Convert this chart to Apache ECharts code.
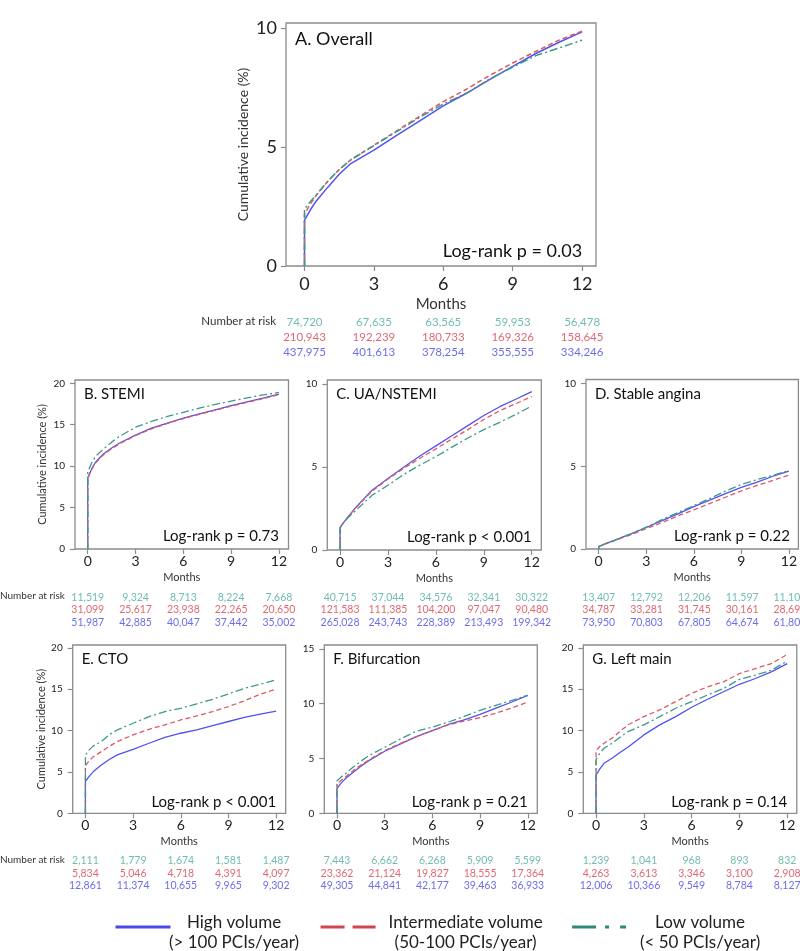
<!DOCTYPE html>
<html>
<head>
<meta charset="utf-8">
<script src="https://cdn.jsdelivr.net/npm/echarts@6/dist/echarts.min.js"></script>
<style>
html,body{margin:0;padding:0;background:#fff;}
#chart{width:800px;height:951px;}
</style>
</head>
<body>
<div id="chart"></div>
<script>
// ---------- DATA ----------
const months = [0, 0.25, 0.5, 1, 1.5, 2, 3, 4, 5, 6, 7, 8, 9, 10, 11, 12];
const tickMonths = [0, 3, 6, 9, 12];
const groupNames = ['High volume', 'Intermediate volume', 'Low volume'];
const groupSubs = ['(> 100 PCIs/year)', '(50-100 PCIs/year)', '(< 50 PCIs/year)'];
const riskRows = ['Low', 'Intermediate', 'High'];

const panelTitles = ['A. Overall', 'B. STEMI', 'C. UA/NSTEMI', 'D. Stable angina', 'E. CTO', 'F. Bifurcation', 'G. Left main'];
const logRankTexts = ['Log-rank p = 0.03', 'Log-rank p = 0.73', 'Log-rank p < 0.001', 'Log-rank p = 0.22', 'Log-rank p < 0.001', 'Log-rank p = 0.21', 'Log-rank p = 0.14'];
const yTickValues = [[0, 5, 10], [0, 5, 10, 15, 20], [0, 5, 10], [0, 5, 10], [0, 5, 10, 15, 20], [0, 5, 10, 15], [0, 5, 10, 15, 20]];

// cumulative incidence (%) at months[]
const overallHigh  = [1.93, 2.35, 2.72, 3.3, 3.85, 4.3, 4.86, 5.49, 6.1, 6.72, 7.25, 7.82, 8.38, 8.92, 9.39, 9.83];
const overallInter = [2.18, 2.6, 2.95, 3.55, 4.05, 4.46, 5.07, 5.68, 6.3, 6.9, 7.42, 8.0, 8.52, 9.01, 9.48, 9.86];
const overallLow   = [2.4, 2.7, 2.98, 3.55, 4.05, 4.45, 5.05, 5.65, 6.25, 6.8, 7.25, 7.85, 8.35, 8.83, 9.15, 9.48];

const stemiHigh  = [8.6, 9.7, 10.5, 11.5, 12.2, 12.8, 13.75, 14.6, 15.2, 15.8, 16.3, 16.8, 17.3, 17.75, 18.2, 18.7];
const stemiInter = [8.5, 9.6, 10.4, 11.4, 12.1, 12.7, 13.7, 14.5, 15.15, 15.75, 16.25, 16.75, 17.25, 17.7, 18.15, 18.65];
const stemiLow   = [9.3, 10.4, 11.2, 12.1, 12.9, 13.6, 14.7, 15.4, 16.0, 16.5, 17.0, 17.45, 17.85, 18.25, 18.6, 18.9];

const nstemiHigh  = [1.35, 1.7, 2.0, 2.58, 3.1, 3.6, 4.31, 5.0, 5.67, 6.28, 6.89, 7.5, 8.11, 8.64, 9.09, 9.55];
const nstemiInter = [1.35, 1.7, 2.0, 2.55, 3.05, 3.55, 4.28, 4.93, 5.53, 6.1, 6.69, 7.26, 7.87, 8.4, 8.82, 9.25];
const nstemiLow   = [1.35, 1.68, 1.95, 2.4, 2.85, 3.3, 3.9, 4.57, 5.12, 5.63, 6.2, 6.75, 7.26, 7.7, 8.17, 8.68];

const stableHigh  = [0.15, 0.25, 0.35, 0.52, 0.72, 0.9, 1.3, 1.72, 2.12, 2.56, 2.95, 3.35, 3.73, 4.05, 4.4, 4.71];
const stableInter = [0.15, 0.25, 0.33, 0.5, 0.68, 0.85, 1.23, 1.6, 2.0, 2.36, 2.75, 3.13, 3.52, 3.85, 4.15, 4.47];
const stableLow   = [0.15, 0.25, 0.35, 0.52, 0.72, 0.9, 1.32, 1.78, 2.2, 2.62, 3.05, 3.5, 3.9, 4.2, 4.45, 4.75];

const ctoHigh  = [3.85, 4.5, 5.04, 5.85, 6.5, 7.06, 7.74, 8.47, 9.19, 9.68, 10.08, 10.6, 11.1, 11.6, 12.0, 12.35];
const ctoInter = [5.75, 6.4, 6.85, 7.46, 8.1, 8.67, 9.48, 10.16, 10.69, 11.29, 11.77, 12.3, 12.9, 13.6, 14.4, 15.0];
const ctoLow   = [7.05, 7.7, 8.15, 8.67, 9.5, 10.08, 10.89, 11.69, 12.3, 12.7, 13.23, 13.79, 14.44, 15.1, 15.6, 16.15];

const bifHigh  = [2.26, 2.75, 3.12, 3.73, 4.3, 4.8, 5.66, 6.33, 7.0, 7.55, 8.1, 8.53, 9.02, 9.6, 10.15, 10.76];
const bifInter = [2.72, 3.0, 3.27, 3.88, 4.4, 4.86, 5.72, 6.38, 7.0, 7.55, 8.07, 8.41, 8.72, 9.14, 9.6, 10.15];
const bifLow   = [2.97, 3.3, 3.58, 4.19, 4.75, 5.26, 6.02, 6.79, 7.49, 7.86, 8.32, 8.84, 9.39, 9.85, 10.3, 10.76];

const lmHigh  = [4.64, 5.4, 6.05, 6.65, 7.35, 7.98, 9.48, 10.69, 11.69, 12.82, 13.79, 14.7, 15.6, 16.3, 17.1, 18.1];
const lmInter = [7.58, 8.1, 8.47, 9.07, 9.9, 10.69, 11.69, 12.5, 13.5, 14.5, 15.3, 15.9, 16.9, 17.5, 18.1, 19.2];
const lmLow   = [6.53, 7.3, 7.86, 8.47, 9.2, 9.88, 10.69, 11.69, 12.7, 13.5, 14.3, 15.1, 16.2, 16.7, 17.3, 18.4];

// number at risk at tickMonths
const riskOverallLow = [74720, 67635, 63565, 59953, 56478];
const riskOverallInter = [210943, 192239, 180733, 169326, 158645];
const riskOverallHigh = [437975, 401613, 378254, 355555, 334246];
const riskStemiLow = [11519, 9324, 8713, 8224, 7668];
const riskStemiInter = [31099, 25617, 23938, 22265, 20650];
const riskStemiHigh = [51987, 42885, 40047, 37442, 35002];
const riskNstemiLow = [40715, 37044, 34576, 32341, 30322];
const riskNstemiInter = [121583, 111385, 104200, 97047, 90480];
const riskNstemiHigh = [265028, 243743, 228389, 213493, 199342];
const riskStableLow = [13407, 12792, 12206, 11597, 11101];
const riskStableInter = [34787, 33281, 31745, 30161, 28693];
const riskStableHigh = [73950, 70803, 67805, 64674, 61801];
const riskCtoLow = [2111, 1779, 1674, 1581, 1487];
const riskCtoInter = [5834, 5046, 4718, 4391, 4097];
const riskCtoHigh = [12861, 11374, 10655, 9965, 9302];
const riskBifLow = [7443, 6662, 6268, 5909, 5599];
const riskBifInter = [23362, 21124, 19827, 18555, 17364];
const riskBifHigh = [49305, 44841, 42177, 39463, 36933];
const riskLmLow = [1239, 1041, 968, 893, 832];
const riskLmInter = [4263, 3613, 3346, 3100, 2908];
const riskLmHigh = [12006, 10366, 9549, 8784, 8127];

// ---------- LAYOUT / STYLE ----------
const FONT = 'Lato';
const curves = [
  [overallHigh, overallInter, overallLow],
  [stemiHigh, stemiInter, stemiLow],
  [nstemiHigh, nstemiInter, nstemiLow],
  [stableHigh, stableInter, stableLow],
  [ctoHigh, ctoInter, ctoLow],
  [bifHigh, bifInter, bifLow],
  [lmHigh, lmInter, lmLow]
];
const risks = [
  [riskOverallLow, riskOverallInter, riskOverallHigh],
  [riskStemiLow, riskStemiInter, riskStemiHigh],
  [riskNstemiLow, riskNstemiInter, riskNstemiHigh],
  [riskStableLow, riskStableInter, riskStableHigh],
  [riskCtoLow, riskCtoInter, riskCtoHigh],
  [riskBifLow, riskBifInter, riskBifHigh],
  [riskLmLow, riskLmInter, riskLmHigh]
];
const lineColors = ['#5252ee', '#dc5a64', '#3e9a88'];
const riskColors = ['#4fab9a', '#d7434f', '#4848e4'];   // low, inter, high rows
const lineTypes = ['solid', [5, 3], [8, 3, 2, 3]];

const panels = [
  {l: 286, t: 23, w: 310, h: 243, ymax: 10.2, big: true, ytitle: true, ygap: 36, riskTop: 314.5, riskH: 45},
  {l: 75, t: 380, w: 213.5, h: 169, ymax: 20.4, ytitle: true, ygap: 27, riskTop: 591.5, riskH: 37},
  {l: 327.3, t: 380, w: 214, h: 170, ymax: 10.25, riskTop: 591.5, riskH: 37},
  {l: 586, t: 379.5, w: 213.5, h: 169.5, ymax: 10.25, riskTop: 591.5, riskH: 37},
  {l: 72.7, t: 645, w: 213, h: 168.3, ymax: 20.35, ytitle: true, ygap: 26, riskTop: 854.8, riskH: 37},
  {l: 324.3, t: 645, w: 213, h: 168.3, ymax: 15.35, riskTop: 854.8, riskH: 37},
  {l: 583.3, t: 645, w: 213.5, h: 168.3, ymax: 20.35, riskTop: 854.8, riskH: 37}
];
const XMIN = -0.8, XMAX = 12.6;

const grid = [], xAxis = [], yAxis = [], series = [], graphic = [];

panels.forEach((p, i) => {
  const big = !!p.big;
  grid.push({left: p.l, top: p.t, width: p.w, height: p.h, show: true,
    borderColor: '#8c8c8c', borderWidth: 1.3, backgroundColor: 'transparent'});
  xAxis.push({
    type: 'value', gridIndex: i, min: XMIN, max: XMAX,
    name: 'Months', nameLocation: 'middle', nameGap: big ? 31 : 23,
    nameTextStyle: {fontFamily: FONT, fontSize: big ? 15 : 11, color: '#333'},
    axisLine: {show: false, onZero: false}, splitLine: {show: false},
    axisTick: {show: true, length: 5, lineStyle: {color: '#8c8c8c', width: 1.2}, customValues: tickMonths},
    axisLabel: {fontFamily: FONT, fontSize: big ? 18 : 14, color: '#222', margin: big ? 9 : 5, customValues: tickMonths}
  });
  yAxis.push({
    type: 'value', gridIndex: i, min: 0, max: p.ymax,
    name: p.ytitle ? 'Cumulative incidence (%)' : '', nameLocation: 'middle', nameGap: p.ygap || 30,
    nameTextStyle: {fontFamily: FONT, fontSize: big ? 14 : 11, color: '#333'},
    axisLine: {show: false, onZero: false}, splitLine: {show: false},
    axisTick: {show: true, length: 5, lineStyle: {color: '#8c8c8c', width: 1.2}, customValues: yTickValues[i]},
    axisLabel: {fontFamily: FONT, fontSize: big ? 18 : 10, color: '#222', margin: big ? 9 : 10, customValues: yTickValues[i]}
  });
  curves[i].forEach((vals, g) => {
    series.push({
      type: 'line', name: groupNames[g], xAxisIndex: i, yAxisIndex: i,
      symbol: 'none', animation: false, z: 3 + g,
      color: lineColors[g],
      lineStyle: {color: lineColors[g], width: big ? 1.5 : 1.3, type: lineTypes[g]},
      data: [[0, 0]].concat(months.map((m, k) => [m, vals[k]]))
    });
  });
  graphic.push({type: 'text', left: p.l + 9, top: p.t + 7,
    style: {text: panelTitles[i], font: `${big ? 18 : 15}px ${FONT}`, fill: '#111'}});
  const xr = p.l + p.w * (12.8 / 13.4);
  const lrTop = big ? p.t + p.h - 24 : (i <= 3 ? p.t + p.h - 20 : p.t + p.h - 19);
  graphic.push({type: 'text', right: 800 - xr, top: lrTop,
    style: {text: logRankTexts[i], font: `${big ? 18 : 15}px ${FONT}`, fill: '#111'}});
});

// risk tables
panels.forEach((p, i) => {
  const gi = panels.length + i;
  grid.push({left: p.l, top: p.riskTop, width: p.w, height: p.riskH, show: false});
  xAxis.push({type: 'value', gridIndex: gi, min: XMIN, max: XMAX, show: false});
  yAxis.push({type: 'category', gridIndex: gi, data: riskRows, inverse: true, show: false});
  risks[i].forEach((vals, r) => {
    series.push({
      type: 'scatter', name: 'risk-' + i + '-' + r, xAxisIndex: gi, yAxisIndex: gi,
      symbolSize: 1, itemStyle: {color: 'rgba(0,0,0,0)'}, silent: true, animation: false,
      label: {show: true, position: 'inside', fontFamily: FONT, fontSize: p.big ? 11.5 : 10.5,
        color: riskColors[r], formatter: (d) => d.value[2].toLocaleString('en-US')},
      data: tickMonths.map((m, k) => [m, riskRows[r], vals[k]])
    });
  });
});

graphic.push({type: 'text', right: 800 - 276, top: 315, style: {text: 'Number at risk', font: `11.5px ${FONT}`, fill: '#333'}});
graphic.push({type: 'text', left: 0, top: 591, style: {text: 'Number at risk', font: `10px ${FONT}`, fill: '#333'}});
graphic.push({type: 'text', left: 0, top: 855, style: {text: 'Number at risk', font: `10px ${FONT}`, fill: '#333'}});

const richKeys = ['a', 'b', 'c'];
const richWidths = [117, 170, 136];
const rich = {};
richKeys.forEach((k, idx) => { rich[k] = {width: richWidths[idx], align: 'center', fontFamily: FONT, fontSize: 17, lineHeight: 20, color: '#222'}; });

const option = {
  animation: false,
  backgroundColor: '#fff',
  grid, xAxis, yAxis, series, graphic,
  legend: {
    left: 114, top: 914, padding: 0, itemWidth: 55, itemHeight: 1, itemGap: 20,
    selectedMode: false,
    data: [
      {name: groupNames[0], itemStyle: {opacity: 0}, lineStyle: {type: 'solid', width: 3, color: '#4a4ae8'}},
      {name: groupNames[1], itemStyle: {opacity: 0}, lineStyle: {type: [24, 8], width: 3, color: '#cf4653'}},
      {name: groupNames[2], itemStyle: {opacity: 0}, lineStyle: {type: [24, 9, 4, 11, 6, 20], width: 3, color: '#2f8a78'}}
    ],
    formatter: (name) => {
      const idx = groupNames.indexOf(name);
      const k = richKeys[idx];
      return `{${k}|${name}}\n{${k}|${groupSubs[idx]}}`;
    },
    textStyle: {padding: [11, 0, 0, 0], rich}
  }
};

const chart = echarts.init(document.getElementById('chart'), null, {renderer: 'canvas'});
chart.setOption(option);
</script>
</body>
</html>
